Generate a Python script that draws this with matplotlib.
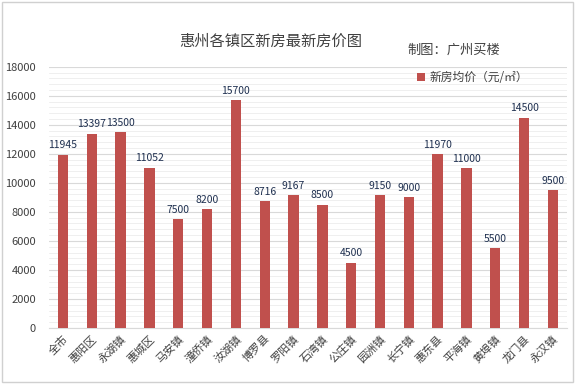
import matplotlib
matplotlib.use('Agg')
import matplotlib.pyplot as plt
from matplotlib.ticker import MultipleLocator
from matplotlib.patches import Rectangle

plt.rcParams['font.family'] = ['Noto Sans CJK SC', 'DejaVu Sans']

districts = ['全市', '惠阳区', '永湖镇', '惠城区', '马安镇', '潼侨镇', '汝湖镇', '博罗县', '罗阳镇',
             '石湾镇', '公庄镇', '园洲镇', '长宁镇', '惠东县', '平海镇', '黄埠镇', '龙门县', '永汉镇']
prices = [11945, 13397, 13500, 11052, 7500, 8200, 15700, 8716, 9167,
          8500, 4500, 9150, 9000, 11970, 11000, 5500, 14500, 9500]

fig = plt.figure(figsize=(5.75, 3.84), dpi=100)
ax = fig.add_axes([0.0845, 0.146, 0.902, 0.68])

x = list(range(len(districts)))
ax.bar(x, prices, width=0.36, color='#C0504D', label='新房均价（元/㎡）', zorder=3)
for xi, v in zip(x, prices):
    ax.text(xi, v + 300, str(v), ha='center', va='bottom', fontsize=7.5, color='#1F3050')

ax.set_xlim(-0.5, len(districts) - 0.5)
ax.set_ylim(0, 18000)
ax.yaxis.set_major_locator(MultipleLocator(2000))
ax.yaxis.set_minor_locator(MultipleLocator(400))
ax.grid(axis='y', which='major', color='#D9D9D9', linewidth=0.8, zorder=0)
ax.grid(axis='y', which='minor', color='#EDEDED', linewidth=0.6, zorder=0)
ax.set_xticks(x)
ax.set_xticklabels(districts, rotation=45, ha='right', rotation_mode='anchor',
                   fontsize=8, color='#404040')
ax.tick_params(axis='y', labelsize=8, labelcolor='#404040', length=0, pad=9)
ax.tick_params(axis='x', length=0, pad=4)
ax.tick_params(axis='y', which='minor', length=0)
for s in ['top', 'right', 'left']:
    ax.spines[s].set_visible(False)
ax.spines['bottom'].set_color('#D9D9D9')

fig.text(0.47, 0.893, '惠州各镇区新房最新房价图', ha='center', va='center', fontsize=11, color='#404040')
fig.text(0.79, 0.868, '制图：广州买楼', ha='center', va='center', fontsize=9.5, color='#404040')
ax.legend(loc='center left', bbox_to_anchor=(0.71, 0.958), frameon=False, fontsize=8.5,
          handlelength=0.7, handleheight=0.7, handletextpad=0.4, labelcolor='#404040',
          borderpad=0, borderaxespad=0)

fig.patches.append(Rectangle((0.004, 0.006), 0.992, 0.99, transform=fig.transFigure,
                             fill=False, edgecolor='#D0D0D0', linewidth=1))

fig.savefig('out.png', dpi=100)
